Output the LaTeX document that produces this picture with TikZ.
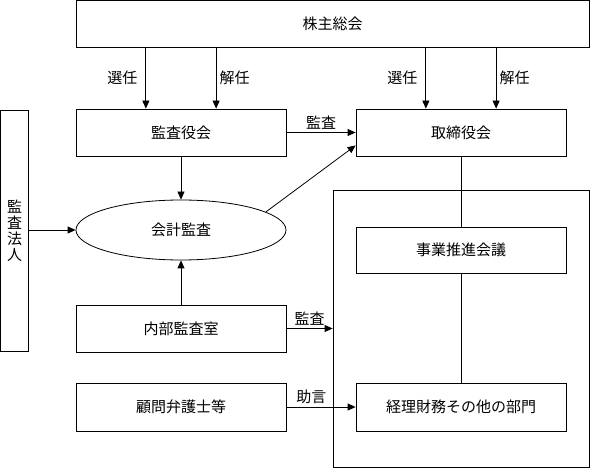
\documentclass[tikz,border=0pt]{standalone}
\usepackage{fontspec}
\setmainfont{Noto Sans CJK JP}
\usetikzlibrary{calc,arrows.meta,shapes.geometric}

\begin{document}
\begin{tikzpicture}[x=1pt,y=-1pt,
	box/.style={draw,line width=0.8pt,inner sep=0pt,font=\fontsize{15}{16}\selectfont},
	arr/.style={line width=0.8pt,-{Triangle[width=7pt,length=8pt]}},
	lbl/.style={font=\fontsize{15}{16}\selectfont,inner sep=3pt}]
			%%%%% START %%%%%
			\useasboundingbox (0,0) rectangle (590,468);
			
			\node[box,minimum width=513,minimum height=46.5] (soukai) at (332.5,23.75) {株主総会};
			\node[box,minimum width=210,minimum height=47] (kansayaku) at (181,132.5) {監査役会};
			\node[box,minimum width=210,minimum height=47] (torishimari) at (461,132.5) {取締役会};
			
			\node[box,minimum width=28,minimum height=241,align=center] (hojin) at (14.5,230.5) {監\\査\\法\\人};
			\node[box,ellipse,minimum width=210,minimum height=60] (kaikei) at (181,230) {会計監査};
			\node[box,minimum width=210,minimum height=47] (naibu) at (181,328.5) {内部監査室};
			\node[box,minimum width=210,minimum height=48] (komon) at (181,407) {顧問弁護士等};
			
			\node[box,minimum width=256,minimum height=277] (bumon) at (461,328.5) {};
			\node[box,minimum width=210,minimum height=46] (jigyo) at (461,250) {事業推進会議};
			\node[box,minimum width=210,minimum height=48] (keiri) at (461,407) {経理財務その他の部門};
			
			% senin / kainin
			\coordinate (ks1) at ($(kansayaku.north west)!1/3!(kansayaku.north east)$);
			\coordinate (ks2) at ($(kansayaku.north west)!2/3!(kansayaku.north east)$);
			\coordinate (ts1) at ($(torishimari.north west)!1/3!(torishimari.north east)$);
			\coordinate (ts2) at ($(torishimari.north west)!2/3!(torishimari.north east)$);
			\draw[arr] (soukai.south -| ks1) -- node[lbl,left,xshift=-5pt]{選任} (ks1);
			\draw[arr] (soukai.south -| ks2) -- node[lbl,right]{解任} (ks2);
			\draw[arr] (soukai.south -| ts1) -- node[lbl,left,xshift=-5pt]{選任} (ts1);
			\draw[arr] (soukai.south -| ts2) -- node[lbl,right]{解任} (ts2);
			
			\draw[arr] (kansayaku.east) -- node[lbl,above]{監査} (torishimari.west);
			\draw[arr] (kansayaku.south) -- (kaikei.north);
			\draw[arr] (naibu.north) -- (kaikei.south);
			\draw[arr] (hojin.east |- kaikei.west) -- (kaikei.west);
			\draw[arr] (kaikei.12) -- (torishimari.187);
			
			\draw[arr] (naibu.east) -- node[lbl,above]{監査} (naibu.east -| bumon.west);
			\draw[arr] (komon.east) -- node[lbl,above,pos=0.36]{助言} (keiri.west);
			
			\draw[line width=0.8pt] (torishimari.south) -- (jigyo.north);
			\draw[line width=0.8pt] (jigyo.south) -- (keiri.north);
			%%%%% END %%%%%
\end{tikzpicture}
\end{document}
